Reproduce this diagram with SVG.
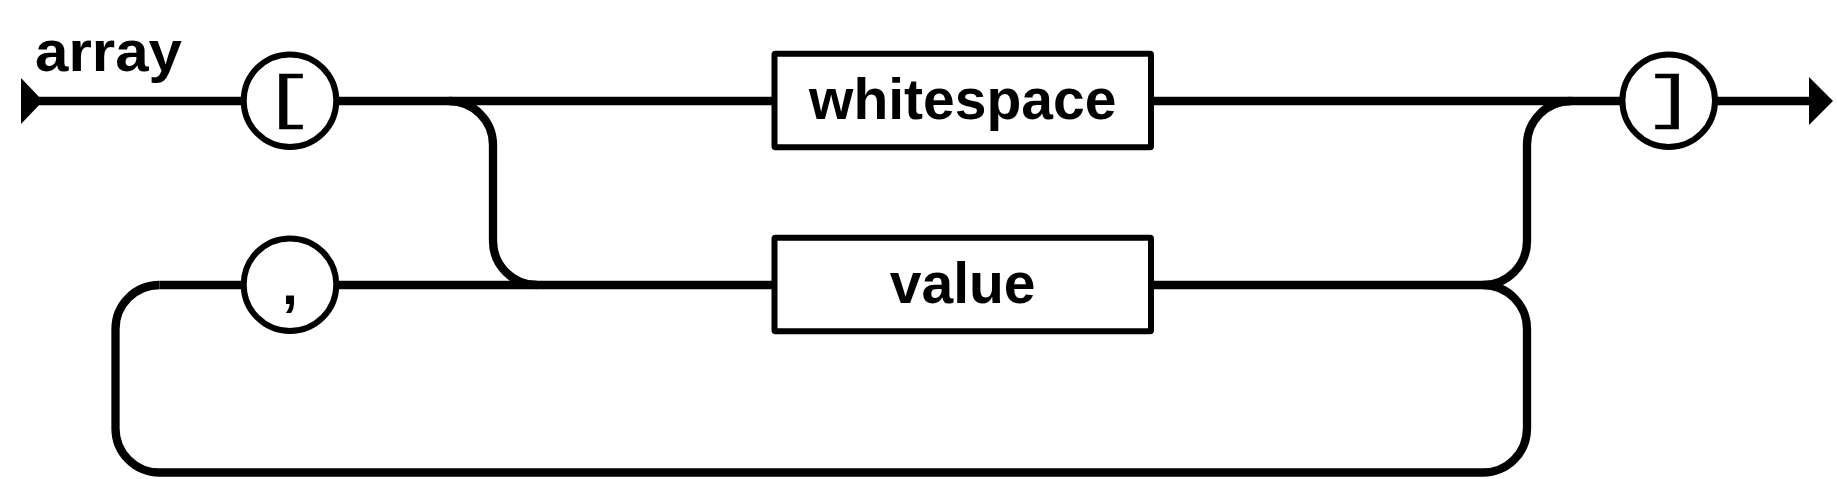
<svg xmlns="http://www.w3.org/2000/svg" width="1837" height="479" viewBox="0 0 1837 479">
<style>
.conn{fill:none;stroke:#000;stroke-width:8.3}
.term{fill:#fff;stroke:#000;stroke-width:6}
.box{fill:#fff;stroke:#000;stroke-width:6}
.lbl{font-family:"Liberation Sans",Arial,sans-serif;font-weight:bold;font-size:57px;fill:#000}
.mono{font-family:"Liberation Mono","DejaVu Sans Mono",monospace;font-size:60px;fill:#000;stroke:#000;stroke-width:0.4}
</style>
<rect width="1837" height="479" fill="#fff"/>
<text id="title" class="lbl" x="35" y="71" textLength="147" lengthAdjust="spacingAndGlyphs">array</text>
<g id="connectors">
<polygon points="21,78 43,101 21,124" fill="#000"/>
<path class="conn" d="M39,101 H1812"/>
<polygon points="1809,77 1833,101 1809,125" fill="#000"/>
<path class="conn" d="M449,101 A44,44 0 0 1 493,145 V241 A44,44 0 0 0 537,285"/>
<path class="conn" d="M159.5,285 H1483"/>
<path class="conn" d="M1483,285 A44,44 0 0 1 1527,329 V428.5 A44,44 0 0 1 1483,472.5 H159.5 A44,44 0 0 1 115.5,428.5 V329 A44,44 0 0 1 159.5,285"/>
<path class="conn" d="M1483,285 A44,44 0 0 0 1527,241 V145 A44,44 0 0 1 1571,101"/>
</g>
<g id="open-bracket">
<circle class="term" cx="290" cy="100.7" r="46.3"/>
<text class="mono" transform="translate(288,117) scale(1.45,1)" x="0" y="0" text-anchor="middle">[</text>
</g>
<g id="comma">
<circle class="term" cx="290" cy="284.7" r="46.3"/>
<text class="lbl" x="290" y="304" text-anchor="middle" font-size="62">,</text>
</g>
<g id="close-bracket">
<circle class="term" cx="1668.7" cy="100.7" r="46.3"/>
<text class="mono" transform="translate(1670,117) scale(1.45,1)" x="0" y="0" text-anchor="middle">]</text>
</g>
<g id="whitespace">
<rect class="box" x="774.5" y="53.7" width="376.5" height="93.6" rx="1"/>
<text class="lbl" x="962.7" y="119" text-anchor="middle">whitespace</text>
</g>
<g id="value">
<rect class="box" x="774.5" y="237.8" width="376.5" height="93.5" rx="1"/>
<text class="lbl" x="962.7" y="303.3" text-anchor="middle">value</text>
</g>
</svg>
